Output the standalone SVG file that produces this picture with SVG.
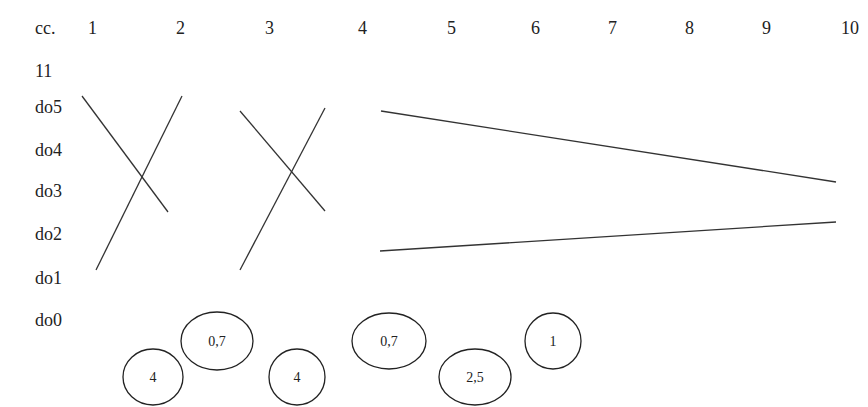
<svg xmlns="http://www.w3.org/2000/svg" width="868" height="407" viewBox="0 0 868 407">
<style>
.lbl{font-family:'Liberation Serif','DejaVu Serif',serif;font-size:18px;fill:#222}
.nt{font-family:'Liberation Serif','DejaVu Serif',serif;font-size:14px;fill:#222;text-anchor:middle}
.n ellipse{fill:none;stroke:#222;stroke-width:1.3}
.ln{stroke:#333;stroke-width:1.3;fill:none}
</style>
<rect width="868" height="407" fill="#fff"/>
<g id="header">
<text class="lbl" x="35" y="34">cc.</text>
<text class="lbl" x="88" y="34">1</text>
<text class="lbl" x="176" y="34">2</text>
<text class="lbl" x="265" y="34">3</text>
<text class="lbl" x="358" y="34">4</text>
<text class="lbl" x="447" y="34">5</text>
<text class="lbl" x="531" y="34">6</text>
<text class="lbl" x="608" y="34">7</text>
<text class="lbl" x="685" y="34">8</text>
<text class="lbl" x="762" y="34">9</text>
<text class="lbl" x="841" y="34">10</text>
</g>
<g id="rows">
<text class="lbl" x="35" y="77">11</text>
<text class="lbl" x="35" y="113">do5</text>
<text class="lbl" x="35" y="156">do4</text>
<text class="lbl" x="35" y="197">do3</text>
<text class="lbl" x="35" y="240">do2</text>
<text class="lbl" x="35" y="284">do1</text>
<text class="lbl" x="35" y="326">do0</text>
</g>
<g id="connectors">
<line class="ln" x1="82" y1="96" x2="168" y2="212"/>
<line class="ln" x1="182" y1="96" x2="96" y2="270"/>
<line class="ln" x1="240" y1="111" x2="325" y2="211"/>
<line class="ln" x1="325" y1="108" x2="240" y2="270"/>
<line class="ln" x1="381" y1="111" x2="836" y2="182"/>
<line class="ln" x1="380" y1="251" x2="836" y2="222"/>
</g>
<g id="n1" class="n"><ellipse cx="153" cy="377" rx="30" ry="28"/><text class="nt" x="153" y="382">4</text></g>
<g id="n2" class="n"><ellipse cx="217" cy="341" rx="36" ry="29"/><text class="nt" x="217" y="346">0,7</text></g>
<g id="n3" class="n"><ellipse cx="297" cy="377" rx="28" ry="28"/><text class="nt" x="297" y="382">4</text></g>
<g id="n4" class="n"><ellipse cx="389" cy="341" rx="37" ry="28"/><text class="nt" x="389" y="346">0,7</text></g>
<g id="n5" class="n"><ellipse cx="475" cy="377" rx="36" ry="28"/><text class="nt" x="475" y="382">2,5</text></g>
<g id="n6" class="n"><ellipse cx="553" cy="341" rx="28" ry="28"/><text class="nt" x="553" y="346">1</text></g>
</svg>
